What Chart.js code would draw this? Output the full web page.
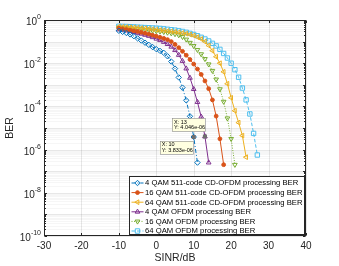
<!DOCTYPE html>
<html>
<head>
<meta charset="utf-8">
<script src="https://cdn.jsdelivr.net/npm/chart.js@4.4.1/dist/chart.umd.min.js"></script>
<style>
  html, body { margin: 0; padding: 0; background: #fff; }
  canvas { display: block; }
</style>
</head>
<body>
<canvas id="berChart" width="339" height="266"></canvas>
<script>
// SINR grid shared by every curve (dB), one point per dB
const snrDb = [-10, -9, -8, -7, -6, -5, -4, -3, -2, -1, 0, 1, 2, 3, 4, 5, 6, 7, 8, 9,
  10, 11, 12, 13, 14, 15, 16, 17, 18, 19, 20, 21, 22, 23, 24, 25, 26, 27];

// BER values
const ber4QamCd = [0.316, 0.282, 0.251, 0.214, 0.178, 0.141, 0.112, 0.0891, 0.0708, 0.0562,
  0.0447, 0.0372, 0.0302, 0.0209, 0.012, 5.62e-3, 2.19e-3, 7.41e-4, 1.91e-4, 3.47e-5,
  3.833e-6, 2.5e-7];
const ber16QamCd = [0.417, 0.389, 0.363, 0.339, 0.316, 0.295, 0.269, 0.245, 0.224, 0.2,
  0.178, 0.158, 0.141, 0.123, 0.1, 0.0741, 0.0525, 0.0355, 0.0234, 0.0148,
  9.12e-3, 5.37e-3, 3.02e-3, 1.51e-3, 6.61e-4, 2.0e-4, 3.55e-5, 3.16e-6, 2.0e-7];
const ber64QamCd = [0.49, 0.479, 0.468, 0.457, 0.447, 0.437, 0.417, 0.407, 0.389, 0.372,
  0.355, 0.339, 0.324, 0.309, 0.295, 0.282, 0.269, 0.251, 0.234, 0.214,
  0.191, 0.162, 0.132, 0.1, 0.0661, 0.038, 0.02, 0.01, 3.98e-3, 1.12e-3,
  2.51e-4, 6.31e-5, 1.78e-5, 4.47e-6, 4.47e-7];
const ber4QamOfdm = [0.363, 0.347, 0.324, 0.302, 0.275, 0.251, 0.229, 0.204, 0.182, 0.158,
  0.135, 0.115, 0.0955, 0.0759, 0.0575, 0.0398, 0.024, 0.0126, 5.62e-3, 2.09e-3,
  6.31e-4, 1.58e-4, 3.31e-5, 4.046e-6, 2.5e-7];
const ber16QamOfdm = [0.447, 0.437, 0.427, 0.407, 0.398, 0.38, 0.372, 0.355, 0.339, 0.324,
  0.309, 0.295, 0.282, 0.263, 0.245, 0.224, 0.2, 0.166, 0.126, 0.0891,
  0.0631, 0.0417, 0.0263, 0.0158, 8.91e-3, 4.47e-3, 1.78e-3, 6.31e-4, 1.66e-4, 2.82e-5,
  3.16e-6, 2.0e-7];
const ber64QamOfdm = [0.513, 0.507, 0.501, 0.49, 0.479, 0.468, 0.457, 0.447, 0.437, 0.427,
  0.417, 0.407, 0.389, 0.372, 0.355, 0.339, 0.316, 0.295, 0.269, 0.24,
  0.214, 0.186, 0.158, 0.132, 0.107, 0.0832, 0.0631, 0.0437, 0.0282, 0.0174,
  0.01, 5.01e-3, 2.24e-3, 7.08e-4, 2.0e-4, 4.47e-5, 5.62e-6, 5.62e-7];

const seriesNames = [
  "4 QAM 511-code CD-OFDM processing BER",
  "16 QAM 511-code CD-OFDM processing BER",
  "64 QAM 511-code CD-OFDM processing BER",
  "4 QAM OFDM processing BER",
  "16 QAM OFDM processing BER",
  "64 QAM OFDM processing BER",
];

const xTicks = [-30, -20, -10, 0, 10, 20, 30, 40];
const yTickExponents = [0, -2, -4, -6, -8, -10];

// data tips: which series, at which SINR, and their text
const tipSeries = [3, 0];
const tipSnr = [13, 10];
const tipText = [["X: 13", "Y: 4.046e-06"], ["X: 10", "Y: 3.833e-06"]];

const FONT = '"Liberation Sans", Arial, Helvetica, sans-serif';
const AXIS_COLOR = "#262626";

const toPoints = (ber) => ber.map((v, i) => ({ x: snrDb[i], y: v }));

const mkSet = (label, ber, color, style, opts) => Object.assign({
  label: label,
  data: toPoints(ber),
  borderColor: color,
  backgroundColor: color,
  borderWidth: 1,
  pointStyle: style,
  pointRadius: 2.7,
  pointBorderWidth: 1,
  pointBorderColor: color,
  pointBackgroundColor: "rgba(255,255,255,0)",
  tension: 0,
  fill: false,
}, opts);

const datasets = [
  mkSet(seriesNames[0], ber4QamCd, "#0072BD", "rectRot", { borderDash: [4, 2, 1, 2], pointRadius: 2.7 }),
  mkSet(seriesNames[1], ber16QamCd, "#D95319", "circle", { pointRadius: 1.9, pointBackgroundColor: "#D95319" }),
  mkSet(seriesNames[2], ber64QamCd, "#EDB120", "triangle", { pointRotation: 270 }),
  mkSet(seriesNames[3], ber4QamOfdm, "#7E2F8E", "triangle", {}),
  mkSet(seriesNames[4], ber16QamOfdm, "#77AC30", "triangle", { borderDash: [1, 1.5], pointRotation: 180 }),
  mkSet(seriesNames[5], ber64QamOfdm, "#4DBEEE", "rect", { borderDash: [3.5, 2], pointRadius: 3.1 }),
];

const hline = (ctx, x1, x2, y) => { ctx.beginPath(); ctx.moveTo(x1, y); ctx.lineTo(x2, y); ctx.stroke(); };
const vline = (ctx, x, y1, y2) => { ctx.beginPath(); ctx.moveTo(x, y1); ctx.lineTo(x, y2); ctx.stroke(); };

const matlabAxes = {
  id: "matlabAxes",
  beforeDatasetsDraw(chart) {
    const { ctx, chartArea: a, scales: { x, y } } = chart;
    ctx.save();
    ctx.lineWidth = 1;
    // minor grid on log axis
    ctx.strokeStyle = "rgba(38,38,38,0.045)";
    for (let e = -10; e < 0; e++) {
      for (let k = 2; k <= 9; k++) {
        hline(ctx, a.left, a.right, Math.round(y.getPixelForValue(k * Math.pow(10, e))) + 0.5);
      }
    }
    // major grid
    ctx.strokeStyle = "rgba(38,38,38,0.11)";
    for (let e = -10; e <= 0; e++) {
      hline(ctx, a.left, a.right, Math.round(y.getPixelForValue(Math.pow(10, e))) + 0.5);
    }
    xTicks.forEach((t) => vline(ctx, Math.round(x.getPixelForValue(t)) + 0.5, a.top, a.bottom));
    ctx.restore();
  },
  afterDatasetsDraw(chart) {
    const { ctx, chartArea: a, scales: { x, y } } = chart;
    ctx.save();
    ctx.strokeStyle = AXIS_COLOR;
    ctx.lineWidth = 1;
    const L = Math.round(a.left) + 0.5, R = Math.round(a.right) - 0.5;
    const T = Math.round(a.top) + 0.5, B = Math.round(a.bottom) - 0.5;
    // inward ticks
    xTicks.forEach((t) => {
      const px = Math.round(x.getPixelForValue(t)) + 0.5;
      vline(ctx, px, B, B - 2.5);
      vline(ctx, px, T, T + 2.5);
    });
    for (let e = -10; e <= 0; e++) {
      const py = Math.round(y.getPixelForValue(Math.pow(10, e))) + 0.5;
      hline(ctx, L, L + 2.5, py);
      hline(ctx, R, R - 2.5, py);
      if (e < 0) {
        for (let k = 2; k <= 9; k++) {
          const pm = Math.round(y.getPixelForValue(k * Math.pow(10, e))) + 0.5;
          hline(ctx, L, L + 1.5, pm);
          hline(ctx, R, R - 1.5, pm);
        }
      }
    }
    ctx.strokeRect(L, T, R - L, B - T);
    ctx.restore();
  },
  afterDraw(chart) {
    const { ctx, chartArea: a, scales: { x, y } } = chart;
    ctx.save();
    ctx.fillStyle = AXIS_COLOR;

    // x tick labels
    ctx.font = "10px " + FONT;
    ctx.textAlign = "center";
    ctx.textBaseline = "middle";
    xTicks.forEach((t) => ctx.fillText(String(t), x.getPixelForValue(t), a.bottom + 10));

    // y tick labels 10^n
    yTickExponents.forEach((e) => {
      const py = y.getPixelForValue(Math.pow(10, e));
      ctx.font = "7px " + FONT;
      const expW = ctx.measureText(String(e)).width;
      const right = a.left - 3;
      ctx.textAlign = "left";
      ctx.fillText(String(e), right - expW, py - 3);
      ctx.font = "10px " + FONT;
      ctx.textAlign = "right";
      ctx.fillText("10", right - expW, py + 2.5);
    });

    // axis titles
    ctx.font = "10.5px " + FONT;
    ctx.textAlign = "center";
    ctx.fillText("SINR/dB", (a.left + a.right) / 2, a.bottom + 22);
    ctx.save();
    ctx.translate(10, (a.top + a.bottom) / 2);
    ctx.rotate(-Math.PI / 2);
    ctx.fillText("BER", 0, 0);
    ctx.restore();

    // data tips
    tipSeries.forEach((s, i) => {
      const idx = snrDb.indexOf(tipSnr[i]);
      const pt = chart.getDatasetMeta(s).data[idx];
      ctx.fillStyle = "#6e6e6e";
      ctx.fillRect(pt.x - 2, pt.y - 2, 4, 4);
      const w = 33, h = 13;
      const bx = i === 0 ? pt.x - w : pt.x - w - 1;
      const by = i === 0 ? pt.y - h - 5 : pt.y + 4;
      ctx.fillStyle = "#ffffe0";
      ctx.fillRect(bx, by, w, h);
      ctx.strokeStyle = "#8c8c8c";
      ctx.lineWidth = 0.6;
      ctx.strokeRect(Math.round(bx) + 0.5, Math.round(by) + 0.5, w, h);
      ctx.fillStyle = "#000";
      ctx.font = "5.5px " + FONT;
      ctx.textAlign = "left";
      ctx.textBaseline = "middle";
      ctx.fillText(tipText[i][0], bx + 2, by + 3.7);
      ctx.fillText(tipText[i][1], bx + 2, by + 9.3);
    });

    // legend inside axes, lower right
    const lw = 175, lh = 58;
    const lx = Math.round(a.right) - lw - 1.5, ly = Math.round(a.bottom) - lh - 1.5;
    ctx.fillStyle = "#fff";
    ctx.fillRect(lx, ly, lw, lh);
    ctx.strokeStyle = AXIS_COLOR;
    ctx.lineWidth = 1;
    ctx.strokeRect(lx, ly, lw, lh);
    chart.data.datasets.forEach((ds, i) => {
      const ry = ly + 6.5 + i * 9.6;
      ctx.save();
      ctx.strokeStyle = ds.borderColor;
      ctx.lineWidth = 1;
      ctx.setLineDash(ds.borderDash || []);
      hline(ctx, lx + 2, lx + 14, ry);
      ctx.setLineDash([]);
      ctx.fillStyle = ds.pointBackgroundColor;
      Chart.helpers.drawPoint(ctx, {
        pointStyle: ds.pointStyle,
        rotation: ds.pointRotation || 0,
        radius: ds.pointRadius,
        borderWidth: 1,
      }, lx + 8, ry);
      ctx.restore();
      ctx.fillStyle = "#000";
      ctx.font = "7.7px " + FONT;
      ctx.textAlign = "left";
      ctx.textBaseline = "middle";
      ctx.fillText(ds.label, lx + 15.5, ry + 0.3);
    });
    ctx.restore();
  },
};

new Chart(document.getElementById("berChart"), {
  type: "line",
  data: { datasets: datasets },
  options: {
    responsive: false,
    animation: false,
    events: [],
    layout: { padding: { left: 44, right: 33, top: 20, bottom: 30 } },
    scales: {
      x: {
        type: "linear",
        min: -30,
        max: 40,
        ticks: { display: false, stepSize: 10 },
        grid: { display: false },
        border: { display: false },
        afterFit: (s) => { s.height = 0; },
      },
      y: {
        type: "logarithmic",
        min: 1e-10,
        max: 1,
        ticks: { display: false },
        grid: { display: false },
        border: { display: false },
        afterFit: (s) => { s.width = 0; },
      },
    },
    plugins: {
      legend: { display: false },
      tooltip: { enabled: false },
    },
  },
  plugins: [matlabAxes],
});
</script>
</body>
</html>
